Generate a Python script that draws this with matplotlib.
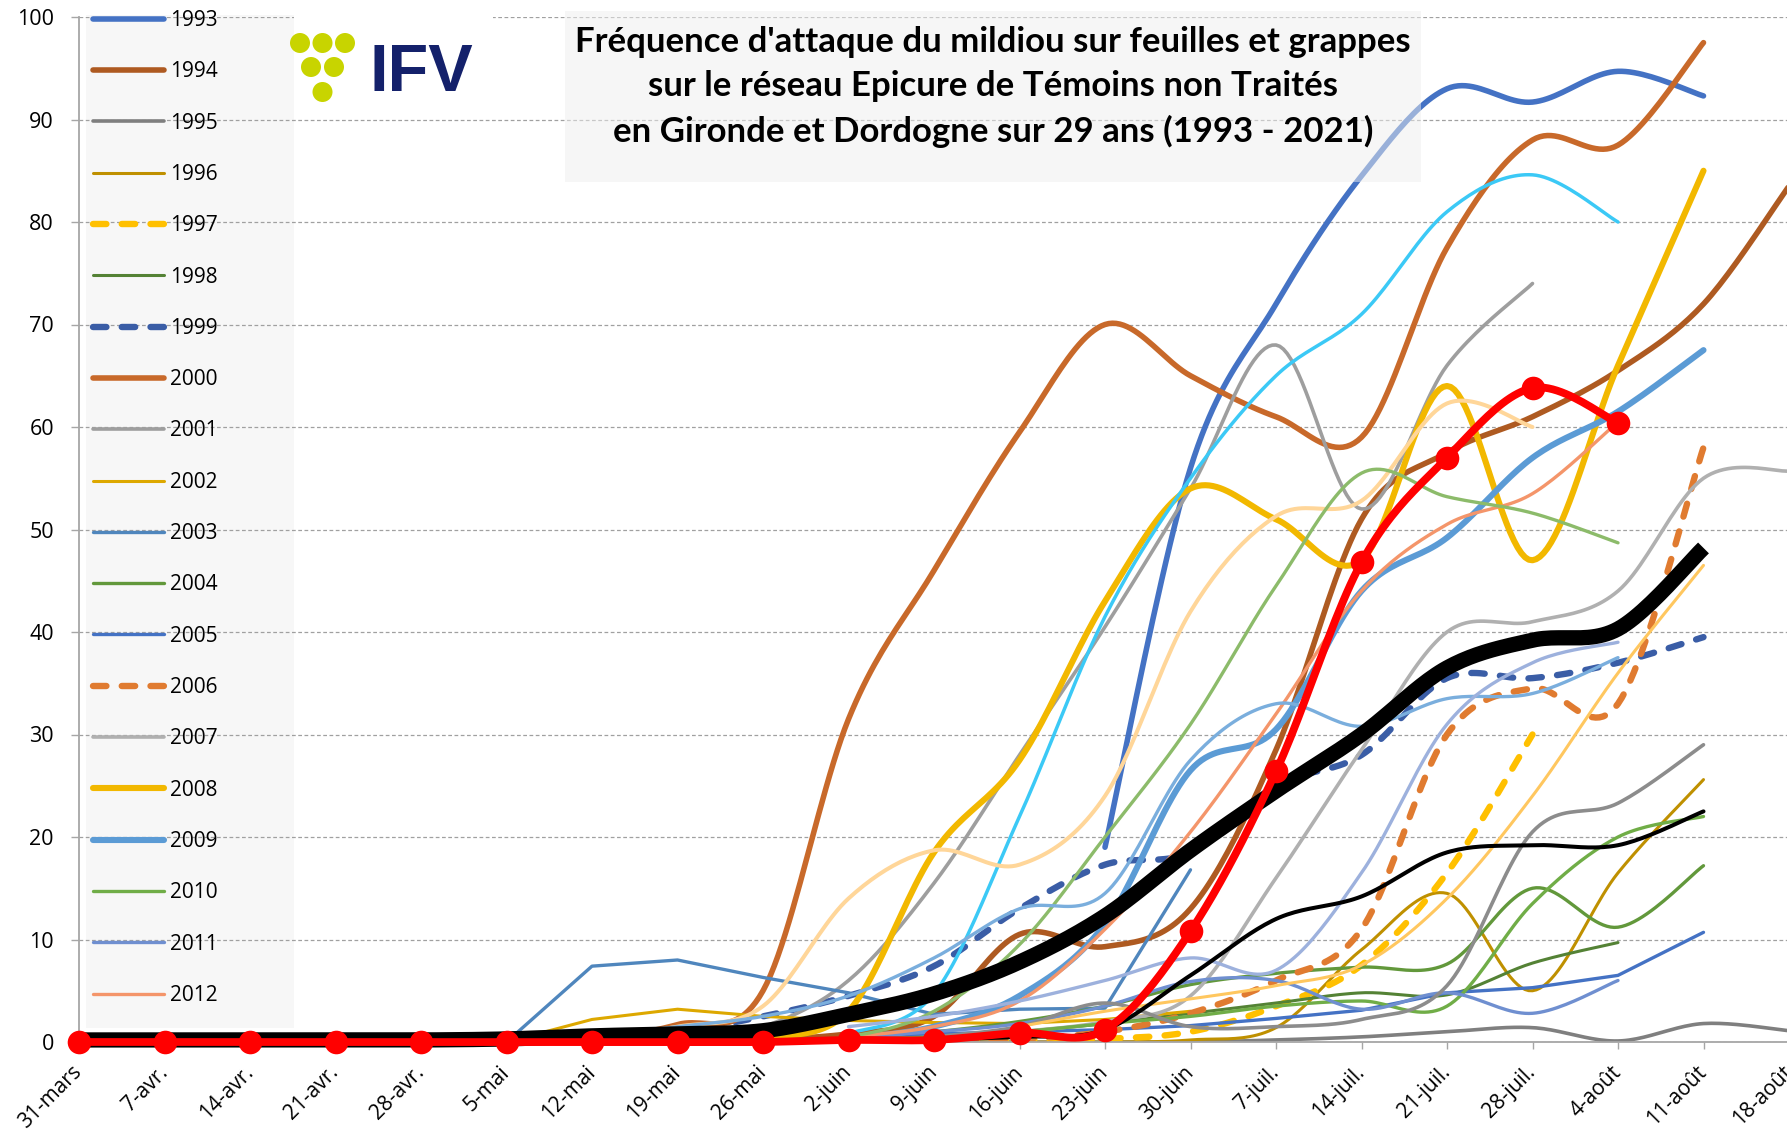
import numpy as np
import matplotlib
matplotlib.use("Agg")
import matplotlib.pyplot as plt
from matplotlib.patches import Rectangle, Ellipse

N = None
dates = ["31-mars", "7-avr.", "14-avr.", "21-avr.", "28-avr.", "5-mai", "12-mai",
         "19-mai", "26-mai", "2-juin", "9-juin", "16-juin", "23-juin", "30-juin",
         "7-juil.", "14-juil.", "21-juil.", "28-juil.", "4-août", "11-août", "18-août"]

y1993 = [N]*12 + [19, 56, 72, 84.5, 93, 91.7, 94.7, 92.3, N]
y1994 = [N]*8 + [0.2, 0.8, 2.5, 10.5, 9.3, 13, 28.5, 51, 57.5, 61, 65.5, 72, 83.5]
y1995 = [0]*14 + [0.2, 0.5, 1.0, 1.4, 0.1, 1.8, 1.1]
y1996 = [0]*13 + [0.2, 1.4, 9, 14.5, 5, 16.5, 25.6, N]
y1997 = [N]*9 + [0, 0, 0.2, 0.3, 1, 3.5, 7.5, 16.5, 30, N, N, N]
y1998 = [N]*9 + [0.2, 0.5, 1, 1.8, 2.8, 3.8, 4.8, 4.6, 7.7, 9.7, N, N]
y1999 = [N]*5 + [0, 0.5, 1, 2.5, 4.5, 7.4, 13, 17.3, 18.5, 25, 28, 35.5, 35.5, 37, 39.5, N]
y2000 = [N]*5 + [0, 0.3, 1.7, 5, 31.5, 46, 59.5, 70, 65, 61, 59, 77.5, 88, 87.5, 97.5, N]
y2001 = [N]*7 + [0.5, 1.5, 6, 15.5, 28, 40.5, 54, 68, 52, 66, 74, N, N, N]
y2002 = [N]*5 + [0, 2.2, 3.2, 2.5, 2.1, 1.9, 1.8, 2.2, 3.0] + [N]*7
y2003 = [N]*5 + [0, 7.4, 8, 6.3, 4.8, 2.7, 3.2, 3.3, 16.8] + [N]*7
y2004 = [N]*9 + [0.5, 1, 2, 3.5, 5.6, 6.7, 7.3, 7.6, 15, 11.2, 17.2, N]
y2005 = [N]*9 + [0.5, 0.8, 1, 1.2, 1.6, 2.3, 3.1, 4.8, 5.3, 6.5, 10.7, N]
y2006 = [N]*10 + [0.2, 0.3, 1, 2.8, 6, 11, 30, 34.5, 33, 58, N]
y2007 = [N]*11 + [1, 2, 4.5, 16, 28.5, 40, 41, 44, 55, 55.7]
y2008 = [N]*8 + [0.5, 3, 18.5, 27.5, 43, 54, 51, 47, 64, 47, 66, 85, N]
y2009 = [N]*9 + [0.3, 1.5, 4.5, 11.5, 26.5, 30.5, 44, 49.2, 57, 61.5, 67.5, N]
y2010 = [N]*9 + [0.2, 0.5, 1, 1.8, 2.5, 3.5, 4, 3.5, 13.5, 20, 22, N]
y2011 = [N]*9 + [0.5, 1, 1.8, 3.5, 5.9, 6, 3.2, 4.8, 2.8, 6, N, N]
y2012 = [N]*9 + [0.5, 1.5, 4, 11, 20.5, 32, 44, 50.5, 53.5, 60.5, N, N]
y2013 = [N]*9 + [0.8, 4.7, 22, 41.5, 55, 65, 71, 81, 84.6, 80, N, N]
y2014 = [N]*10 + [0.5, 1.5, 3.8, 1.5, 1.5, 2.2, 5.5, 20.5, 23.3, 29, N]
y2015 = [N]*11 + [1.5, 3, 4.2, 5.5, 7.5, 14, 24, 36, 46.5, N]
y2016 = [N]*6 + [0.5, 1.5, 3.5, 14, 18.7, 17.3, 24, 42, 51.3, 52.8, 62.3, 60, N, N, N]
y2017 = [N]*8 + [0, 0.5, 3, 9.5, 20, 31, 44.5, 55.5, 53.2, 51.6, 48.7, N, N]
y2018 = [N]*6 + [0.5, 1.5, 2.5, 4.5, 8.2, 13, 14.5, 27.5, 33, 30.8, 33.5, 34, 37.5, N, N]
y2019 = [N]*9 + [1.5, 2.5, 4, 6, 8.2, 7, 16.5, 31, 37, 39, N, N]
y2020 = [N]*10 + [0.3, 0.5, 1.2, 6.5, 12, 14.2, 18.5, 19.2, 19.2, 22.5, N]
y2021 = [0, 0, 0, 0, 0, 0, 0, 0, 0, 0.2, 0.2, 0.9, 1.2, 10.8, 26.4, 46.8, 57, 63.8, 60.4, N, N]
moyenne = [0.2, 0.2, 0.2, 0.2, 0.2, 0.3, 0.6, 0.8, 1.1, 2.7, 4.7, 7.8, 12.3, 18.7, 24.5, 30, 36.5, 39.2, 40.3, 48.2, N]

title_lines = ["Fréquence d'attaque du mildiou sur feuilles et grappes",
               "sur le réseau Epicure de Témoins non Traités",
               "en Gironde et Dordogne sur 29 ans (1993 - 2021)"]

# (label, values, color, linewidth, dashed, smoothed)
series = [
    ("1993", y1993, "#4472C4", 4.0, False, True),
    ("1994", y1994, "#AE5A21", 4.0, False, True),
    ("1995", y1995, "#7F7F7F", 2.6, False, True),
    ("1996", y1996, "#BF9000", 2.2, False, True),
    ("1997", y1997, "#FFC000", 4.6, True, True),
    ("1998", y1998, "#548235", 2.2, False, True),
    ("1999", y1999, "#3A5DA6", 4.6, True, True),
    ("2000", y2000, "#C8692A", 4.0, False, True),
    ("2001", y2001, "#9E9E9E", 2.6, False, True),
    ("2002", y2002, "#DDA800", 2.2, False, False),
    ("2003", y2003, "#4F86BD", 2.4, False, False),
    ("2004", y2004, "#62983B", 2.4, False, True),
    ("2005", y2005, "#4472C4", 2.4, False, False),
    ("2006", y2006, "#E07B30", 4.6, True, True),
    ("2007", y2007, "#B0B0B0", 2.6, False, True),
    ("2008", y2008, "#F2B800", 4.4, False, True),
    ("2009", y2009, "#5B9BD5", 4.4, False, True),
    ("2010", y2010, "#70AD47", 2.4, False, True),
    ("2011", y2011, "#6F8FD0", 2.4, False, True),
    ("2012", y2012, "#F4956A", 2.4, False, True),
    ("2013", y2013, "#3BC9F6", 2.5, False, True),
    ("2014", y2014, "#8C8C8C", 2.6, False, True),
    ("2015", y2015, "#FFC75F", 2.2, False, True),
    ("2016", y2016, "#FFD699", 2.9, False, True),
    ("2017", y2017, "#8CBB6A", 2.4, False, True),
    ("2018", y2018, "#7AAEDD", 2.4, False, True),
    ("2019", y2019, "#9DB1DD", 2.4, False, True),
    ("2020", y2020, "#000000", 2.9, False, True),
]


def bezier_smooth(xs, ys, n=24):
    pts = np.column_stack([xs, ys]).astype(float)
    if len(pts) < 3:
        return pts[:, 0], pts[:, 1]
    out = []
    t = np.linspace(0, 1, n)[:, None]
    for i in range(len(pts) - 1):
        p0 = pts[i - 1] if i > 0 else pts[i]
        p1, p2 = pts[i], pts[i + 1]
        p3 = pts[i + 2] if i + 2 < len(pts) else pts[i + 1]
        c1 = p1 + (p2 - p0) / 6.0
        c2 = p2 - (p3 - p1) / 6.0
        seg = (1 - t) ** 3 * p1 + 3 * (1 - t) ** 2 * t * c1 + 3 * (1 - t) * t ** 2 * c2 + t ** 3 * p2
        out.append(seg if i == 0 else seg[1:])
    arr = np.vstack(out)
    return arr[:, 0], arr[:, 1]


def xy(vals):
    xs = [i for i, v in enumerate(vals) if v is not None]
    ys = [v for v in vals if v is not None]
    return xs, ys


W, H = 1787, 1138
fig = plt.figure(figsize=(W / 100, H / 100), dpi=100)
fig.patch.set_facecolor("white")
ax = fig.add_axes([79 / W, 1 - 1042 / H, 1710 / W, 1025 / H])
ax.set_xlim(0, 20)
ax.set_ylim(0, 100)

FONT = "Open Sans"

# legend background panel (behind lines)
ax.add_patch(Rectangle((86 / W, 1 - 1028 / H), 208 / W, 1013 / H, transform=fig.transFigure,
                       facecolor="#F7F7F7", edgecolor="none", zorder=0.1, clip_on=False))

handles = []
for label, vals, color, lw, dashed, smooth in series:
    xs, ys = xy(vals)
    if smooth:
        px, py = bezier_smooth(xs, ys)
    else:
        px, py = np.array(xs, float), np.array(ys, float)
    kw = dict(color=color, lw=lw, zorder=2, solid_capstyle="round", solid_joinstyle="round")
    if dashed:
        kw.update(ls=(0, (2.1, 2.4)), dash_capstyle="round")
    ln, = ax.plot(px, py, label=label, **kw)
    handles.append(ln)

# average
xs, ys = xy(moyenne)
px, py = bezier_smooth(xs, ys)
ax.plot(px, py, color="black", lw=11, zorder=3, solid_capstyle="butt", clip_on=False)

# 2021
xs, ys = xy(y2021)
px, py = bezier_smooth(xs, ys)
ax.plot(px, py, color="#FF0000", lw=5.6, zorder=4, solid_capstyle="round", clip_on=False)
ax.plot(xs, ys, "o", color="#FF0000", ms=17, mec="none", zorder=4, clip_on=False)

# axes styling
ax.set_xticks(range(len(dates)))
ax.set_xticklabels(dates, rotation=45, ha="right", va="center", rotation_mode="anchor",
                   fontsize=15, family=FONT)
ax.set_yticks(range(0, 101, 10))
ax.set_yticklabels([str(v) for v in range(0, 101, 10)], fontsize=15.5, family=FONT)
ax.tick_params(axis="x", length=5, width=1, color="#A6A6A6", pad=14.5)
ax.tick_params(axis="y", length=6, width=1, color="#A6A6A6", pad=12)
for s in ["top", "right"]:
    ax.spines[s].set_visible(False)
for s in ["left", "bottom"]:
    ax.spines[s].set_color("#A6A6A6")
    ax.spines[s].set_linewidth(1.3)
ax.yaxis.grid(True, ls=(0, (3, 2)), color="#A0A0A0", lw=0.9, zorder=0.5)
ax.set_axisbelow(True)

# legend (first 20 years)
leg = fig.legend(handles=handles[:20], loc="upper left", bbox_to_anchor=(93 / W, 1 - 10 / H),
                 frameon=False, prop={"family": FONT, "size": 15},
                 handlelength=3.4, handletextpad=0.3, labelspacing=1.455,
                 borderpad=0, borderaxespad=0)

# title box
fig.add_artist(Rectangle((565 / W, 1 - 182 / H), 856 / W, 171 / H, transform=fig.transFigure,
                         facecolor="#EFEFEF", edgecolor="none", alpha=0.5, zorder=5))
for k, line in enumerate(title_lines):
    fig.text(993 / W, 1 - (42 + 44.5 * k) / H, line, ha="center", va="center",
             fontsize=25, fontweight="bold", family="Lato", zorder=6)

# logo
fig.add_artist(Rectangle((294 / W, 1 - 113 / H), 199 / W, 103 / H, transform=fig.transFigure,
                         facecolor="white", edgecolor="none", zorder=5))
for cx, cy in [(300, 43), (322.5, 43), (345, 43), (311, 67), (334, 67), (322.5, 92)]:
    fig.add_artist(Ellipse((cx / W, 1 - cy / H), 20 / W, 20 / H, transform=fig.transFigure,
                           facecolor="#C8D400", edgecolor="none", zorder=6))
fig.text(370 / W, 1 - 91 / H, "IFV", ha="left", va="baseline", fontsize=48,
         fontweight="bold", family="Liberation Sans", color="#14216B", zorder=6)

fig.savefig("out.png", dpi=100)
